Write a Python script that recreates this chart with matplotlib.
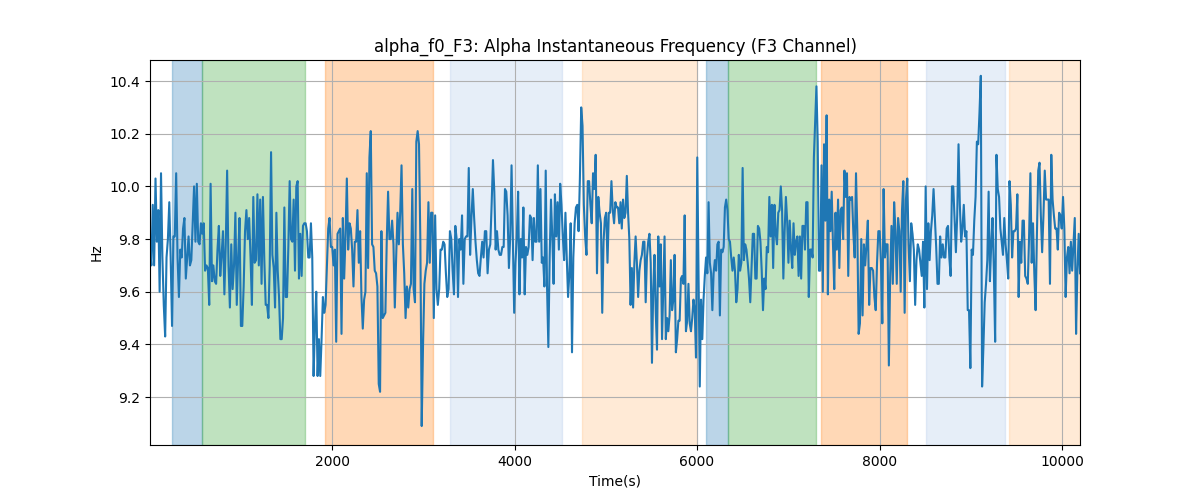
import numpy as np
import matplotlib
matplotlib.use("Agg")
import matplotlib.pyplot as plt

# Segment boundary times (s)
seg_edges = [5, 1288, 2570, 3852, 5134, 6416, 7699, 8981, 10197]

seg1 = [9.76, 9.70, 9.93, 9.70, 10.03, 9.79, 9.91, 9.60, 10.05, 9.73, 9.55, 9.43, 9.73, 9.80, 9.94,
        9.73, 9.47, 9.81, 9.81, 10.05, 9.73, 9.58, 9.76, 9.73, 9.84, 9.88, 9.65, 9.73, 9.81, 9.70,
        9.72, 9.86, 10.00, 9.79, 10.01, 9.79, 9.78, 9.86, 9.82, 9.86, 9.68, 9.70, 9.69, 9.55, 10.01,
        9.64, 9.70, 9.64, 9.63, 9.76, 9.85, 9.66, 9.74, 9.83, 9.59, 9.78, 10.06, 9.70, 9.54, 9.78,
        9.61, 9.70, 9.90, 9.55, 9.73, 9.88, 9.47, 9.47, 9.62, 9.83, 9.91, 9.80, 9.88, 9.73, 9.55,
        9.96, 9.71, 9.72, 9.97, 9.70, 9.95, 9.63, 9.96, 9.72, 9.55]
seg2 = [9.55, 9.50, 9.70, 10.13, 9.74, 9.69, 9.54, 9.90, 9.68, 9.58, 9.42, 9.42, 9.50, 9.92, 9.58,
        9.58, 9.77, 10.02, 9.80, 9.79, 9.95, 9.68, 10.00, 10.02, 9.65, 9.82, 9.66, 9.85, 9.86, 9.86,
        9.83, 9.73, 9.73, 9.86, 9.73, 9.28, 9.47, 9.60, 9.28, 9.42, 9.28, 9.42, 9.58, 9.52, 9.55,
        9.70, 9.84, 9.88, 9.77, 9.77, 9.70, 9.76, 9.41, 9.82, 9.83, 9.84, 9.44, 9.88, 9.65, 9.81,
        10.03, 9.76, 9.86, 9.84, 9.76, 9.62, 9.79, 9.79, 9.91, 9.71, 9.83, 9.58, 9.46, 9.57, 9.60,
        10.05, 9.69, 10.11, 10.21, 9.78, 9.77, 9.68, 9.67, 9.62, 9.25, 9.22, 9.83, 9.50]
seg3 = [9.51, 9.52, 9.79, 9.98, 9.80, 9.80, 9.87, 9.78, 9.54, 9.73, 9.90, 9.78, 9.90, 10.08, 9.78,
        9.67, 9.50, 9.62, 9.54, 9.61, 9.63, 9.99, 9.61, 9.56, 10.17, 10.21, 10.16, 9.79, 9.09, 9.40,
        9.63, 9.68, 9.71, 9.94, 9.71, 9.90, 9.90, 9.50, 9.89, 9.61, 9.55, 9.61, 9.76, 9.76, 9.79,
        9.78, 9.67, 9.58, 9.61, 9.83, 9.80, 9.68, 9.59, 9.85, 9.80, 9.58, 9.80, 9.76, 9.89, 9.63,
        9.80, 9.81, 9.81, 10.07, 9.74, 9.88, 9.99, 9.88, 9.79, 9.72, 9.67, 9.66, 9.73, 9.79, 9.73,
        9.83, 9.83, 9.67, 9.76, 9.78, 9.93, 10.10, 9.98, 9.76, 9.83, 9.76, 9.74]
seg4 = [9.74, 9.77, 9.77, 9.99, 9.98, 9.89, 9.69, 9.81, 10.08, 9.79, 9.52, 9.71, 9.81, 9.98, 9.59,
        9.80, 9.73, 9.92, 9.59, 9.77, 9.74, 9.77, 9.89, 9.88, 9.72, 9.88, 9.79, 9.79, 10.08, 9.79,
        9.99, 9.71, 9.73, 9.62, 10.06, 9.62, 9.39, 9.73, 9.95, 9.81, 9.63, 9.97, 9.81, 9.94, 9.76,
        10.01, 9.93, 9.81, 9.72, 9.90, 9.73, 9.58, 9.67, 9.86, 9.37, 9.73, 9.86, 9.92, 9.93, 9.83,
        10.03, 10.30, 10.23, 9.93, 9.81, 9.74, 10.02, 10.02, 9.93, 9.86, 10.05, 9.99, 10.12, 9.67,
        9.96, 9.90, 9.86, 9.52, 9.79, 9.88, 9.90, 9.71, 9.90, 9.90, 10.02, 9.91, 9.86, 9.94, 9.92]
seg5 = [9.92, 9.86, 9.94, 9.84, 9.95, 9.88, 9.90, 10.04, 9.90, 9.80, 9.55, 9.69, 9.54, 9.71, 9.81,
        9.71, 9.58, 9.68, 9.72, 9.74, 9.79, 9.79, 9.56, 9.73, 9.79, 9.82, 9.71, 9.33, 9.61, 9.74,
        9.52, 9.38, 9.81, 9.62, 9.78, 9.42, 9.61, 9.81, 9.42, 9.50, 9.45, 9.51, 9.72, 9.53, 9.57,
        9.74, 9.37, 9.42, 9.49, 9.49, 9.65, 9.66, 9.63, 9.89, 9.45, 9.49, 9.63, 9.48, 9.45, 9.50,
        9.57, 9.53, 9.35, 10.11, 9.69, 9.24, 9.57, 9.42, 9.57, 9.66, 9.73, 9.67, 9.94, 9.71, 9.67,
        9.53, 9.67, 9.72, 9.68, 9.78, 9.79, 9.51, 9.76, 9.75, 9.77, 9.92, 9.95, 9.91, 9.80, 9.79,
        9.73, 9.68, 9.73]
seg6 = [9.68, 9.56, 9.61, 9.74, 9.68, 9.71, 10.07, 9.72, 9.78, 9.76, 9.71, 9.65, 9.56, 9.69, 9.82,
        9.82, 9.65, 9.65, 9.85, 9.84, 9.79, 9.68, 9.53, 9.65, 9.61, 9.77, 9.75, 9.96, 9.81, 9.93,
        9.69, 9.93, 9.82, 9.78, 9.90, 9.91, 10.00, 9.91, 9.65, 9.83, 9.96, 9.87, 9.71, 9.87, 9.76,
        9.69, 9.86, 9.74, 9.79, 9.81, 9.66, 9.81, 9.65, 9.85, 9.85, 9.76, 9.94, 9.94, 9.58, 9.76,
        9.76, 9.73, 10.11, 10.25, 10.38, 10.17, 9.68, 9.68, 10.08, 9.60, 10.16, 9.87, 10.27, 9.59,
        9.95, 9.83, 9.98, 9.78, 9.61, 9.90, 9.76, 9.95, 9.69, 9.91, 9.92, 9.80, 10.06, 9.96, 10.05,
        9.66, 9.96, 9.95]
seg7 = [9.96, 9.82, 9.73, 10.05, 9.83, 9.44, 9.48, 9.80, 9.51, 9.78, 9.70, 9.78, 9.87, 9.55, 9.69,
        9.69, 9.68, 9.58, 9.53, 9.71, 9.83, 9.83, 9.71, 9.48, 9.99, 9.73, 9.78, 9.78, 9.32, 9.66,
        9.85, 9.63, 9.94, 9.83, 9.63, 9.88, 9.83, 9.60, 9.91, 10.02, 9.52, 9.95, 10.03, 9.78, 9.64,
        9.86, 9.82, 9.76, 9.55, 9.72, 9.78, 9.76, 9.71, 9.66, 9.79, 9.54, 10.00, 9.61, 9.86, 9.72,
        9.83, 9.89, 9.99, 9.88, 9.77, 9.63, 9.63, 9.81, 9.73, 9.78, 9.73, 9.73, 9.84, 9.85, 9.73,
        9.66, 10.00, 10.00, 9.87, 9.75, 9.89, 10.16, 9.93, 9.79, 9.84, 9.93, 9.81, 9.83, 9.53]
seg8 = [9.53, 9.31, 9.76, 9.74, 9.87, 9.96, 10.17, 10.16, 10.28, 10.42, 9.24, 9.39, 9.56, 9.63, 9.72,
        9.98, 9.64, 9.78, 9.88, 9.68, 9.41, 10.12, 9.99, 9.96, 9.84, 9.79, 9.74, 9.88, 9.78, 9.72,
        9.65, 10.02, 9.93, 9.73, 9.83, 9.83, 9.84, 9.97, 9.58, 9.79, 9.71, 9.87, 9.87, 9.66, 9.65,
        9.63, 9.81, 10.05, 9.71, 9.86, 9.67, 9.53, 9.82, 10.06, 10.09, 9.89, 9.75, 9.89, 10.06, 9.95,
        9.95, 9.95, 9.63, 10.12, 9.95, 9.89, 9.84, 9.84, 9.76, 9.90, 9.89, 9.84, 9.96, 9.84, 9.58,
        9.73, 9.77, 9.67, 9.79, 9.68, 9.78, 9.88, 9.44, 9.68, 9.82, 9.67]

segments = [seg1, seg2, seg3, seg4, seg5, seg6, seg7, seg8]

# Shaded intervals (s)
span_starts = [247, 575, 1923, 3293, 4740, 6099, 6343, 7359, 8510, 9419]
span_ends = [575, 1701, 3104, 4517, 5997, 6343, 7301, 8298, 9375, 10197]
span_colors = ["tab:blue", "tab:green", "tab:orange", "#aec7e8", "#ffbb78",
               "tab:blue", "tab:green", "tab:orange", "#aec7e8", "#ffbb78"]

t_parts, v_parts = [], []
for i, seg in enumerate(segments):
    last = i == len(segments) - 1
    t_parts.append(np.linspace(seg_edges[i], seg_edges[i + 1], len(seg), endpoint=last))
    v_parts.append(np.array(seg))
t = np.concatenate(t_parts)
v = np.concatenate(v_parts)

fig, ax = plt.subplots(figsize=(12, 5), dpi=100)
for s, e, c in zip(span_starts, span_ends, span_colors):
    ax.axvspan(s, e, color=c, alpha=0.3, linewidth=1)
ax.plot(t, v, color="tab:blue", linewidth=1.5)
ax.set_xlim(t.min(), t.max())
ax.set_ylim(9.018, 10.48)
ax.grid(True)
ax.set_title("alpha_f0_F3: Alpha Instantaneous Frequency (F3 Channel)")
ax.set_xlabel("Time(s)")
ax.set_ylabel("Hz")
fig.savefig("out.png", dpi=100)
